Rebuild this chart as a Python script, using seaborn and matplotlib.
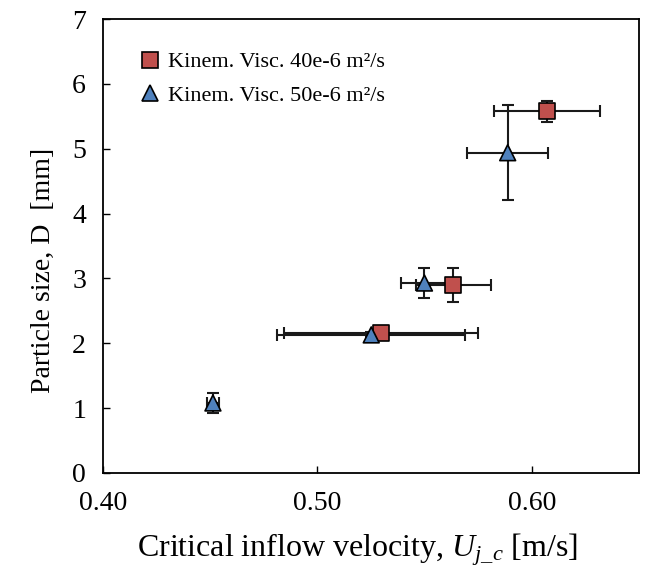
import matplotlib
matplotlib.use("Agg")
import matplotlib.pyplot as plt
import seaborn as sns
import pandas as pd
import numpy as np

# Data
visc40_x = [0.6072, 0.5634, 0.5299]
visc40_y = [5.58, 2.90, 2.16]
visc40_xerr = [0.0248, 0.0175, 0.0452]
visc40_yerr = [0.16, 0.26, 0.04]

visc50_x = [0.5888, 0.5500, 0.5252, 0.4514]
visc50_y = [4.94, 2.93, 2.13, 1.08]
visc50_xerr = [0.019, 0.0110, 0.0438, 0.003]
visc50_yerr = [0.73, 0.23, 0.04, 0.15]

labels = ["Kinem. Visc. 40e-6 m\u00b2/s", "Kinem. Visc. 50e-6 m\u00b2/s"]
x_ticks = [0.40, 0.50, 0.60]
y_ticks = [0, 1, 2, 3, 4, 5, 6, 7]

sns.set_style("white")
plt.rcParams['font.family'] = ['Liberation Serif', 'DejaVu Serif']
plt.rcParams['mathtext.fontset'] = 'custom'
plt.rcParams['mathtext.rm'] = 'Liberation Serif'
plt.rcParams['mathtext.it'] = 'Liberation Serif:italic'
plt.rcParams['text.color'] = 'black'
plt.rcParams['axes.labelcolor'] = 'black'
plt.rcParams['xtick.color'] = 'black'
plt.rcParams['ytick.color'] = 'black'

df = pd.concat([
    pd.DataFrame({"x": visc40_x, "y": visc40_y, "series": labels[0]}),
    pd.DataFrame({"x": visc50_x, "y": visc50_y, "series": labels[1]}),
])

fig = plt.figure(figsize=(6.54, 5.80), dpi=100)
ax = fig.add_axes([0.157, 0.1845, 0.820, 0.7825])

ax.errorbar(visc40_x, visc40_y, xerr=visc40_xerr, yerr=visc40_yerr, fmt='none',
            ecolor='#1a1a1a', elinewidth=1.5, capsize=4, capthick=1.5, zorder=2)
ax.errorbar(visc50_x, visc50_y, xerr=visc50_xerr, yerr=visc50_yerr, fmt='none',
            ecolor='#1a1a1a', elinewidth=1.5, capsize=4, capthick=1.5, zorder=2)

sns.scatterplot(data=df, x="x", y="y", hue="series", style="series",
                markers={labels[0]: 's', labels[1]: '^'},
                palette={labels[0]: '#C0504D', labels[1]: '#4F81BD'},
                s=130, edgecolor='black', linewidth=1.2, ax=ax, zorder=3,
                legend=True)

ax.set_xlim(0.40, 0.65)
ax.set_ylim(0, 7)
ax.set_xticks(x_ticks)
ax.set_xticklabels([f"{v:.2f}" for v in x_ticks])
ax.set_yticks(y_ticks)
ax.tick_params(axis='both', direction='in', length=5, width=1, labelsize=20,
               colors='black', top=False, right=False, bottom=True, left=True)
ax.tick_params(axis='x', pad=13)
ax.tick_params(axis='y', pad=12)
for sp in ax.spines.values():
    sp.set_color('black')
    sp.set_linewidth(1.3)

ax.set_xlabel(r"Critical inflow velocity, $U_{j\_c}$ [m/s]", fontsize=23, color='black')
ax.set_ylabel("Particle size, D  [mm]", fontsize=20, color='black')
ax.xaxis.set_label_coords(0.475, -0.128)
ax.yaxis.set_label_coords(-0.088, 0.447)

leg = ax.legend(loc='upper left', frameon=False, fontsize=16,
                handletextpad=0.2, labelspacing=0.58, borderaxespad=0.0,
                borderpad=0.0, bbox_to_anchor=(0.064, 0.928),
                markerscale=1.0, handlelength=1.2)
for t in leg.get_texts():
    t.set_color('black')

fig.savefig("out.png", dpi=100)
